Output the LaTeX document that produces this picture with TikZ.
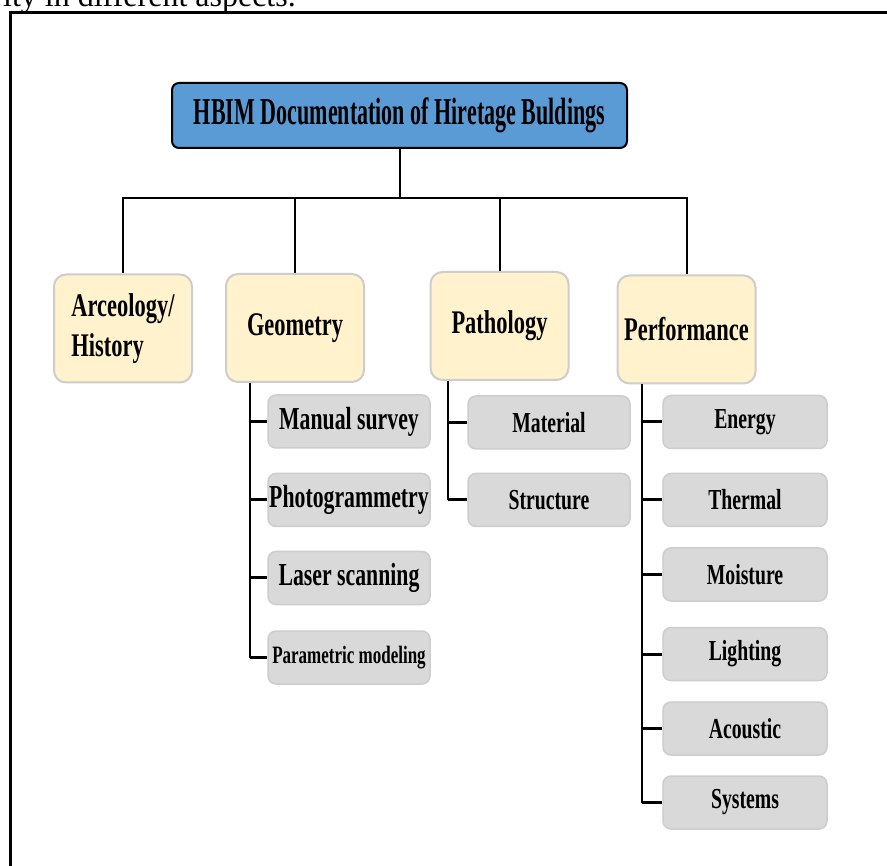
\documentclass[tikz,border=0pt]{standalone}
\usepackage{fontspec}
\setmainfont{Liberation Serif}
\newfontfamily\boxfont[FakeStretch=0.68]{Liberation Serif}
\newfontfamily\headfont[FakeStretch=0.58]{Liberation Serif}
\definecolor{hbimblue}{RGB}{91,155,213}
\definecolor{topicfill}{RGB}{255,242,204}
\definecolor{topicline}{RGB}{205,205,205}
\definecolor{itemfill}{RGB}{217,217,217}
\definecolor{itemline}{RGB}{205,205,205}
\tikzset{headbox/.style={draw=black, line width=2pt, fill=hbimblue, rounded corners=7pt,
           minimum width=455pt, minimum height=65pt, inner sep=0pt,
           font=\headfont\bfseries\fontsize{38}{42}\selectfont},
         topicbox/.style={draw=topicline, line width=2pt, fill=topicfill, rounded corners=12pt,
           minimum width=138pt, minimum height=108pt, inner sep=0pt,
           font=\boxfont\bfseries\fontsize{33}{40}\selectfont},
         itembox/.style={draw=itemline, line width=1.5pt, fill=itemfill, rounded corners=8pt,
           minimum width=162pt, minimum height=53pt, inner sep=0pt,
           font=\boxfont\bfseries\fontsize{29}{32}\selectfont},
         conn/.style={line width=2pt},
         tick/.style={line width=3pt}
}

\begin{document}
\begin{tikzpicture}[x=1pt,y=-1pt]
\useasboundingbox (0,0) rectangle (887,866);
\clip (0,0) rectangle (887,866);

% text above the frame and the frame
\node[anchor=base east, inner sep=0pt, font=\fontsize{32}{36}\selectfont] (caption) at (296,7) {ity in different aspects.};
\draw[line width=3pt] (10,900) -- (10,13) -- (900,13);

\node[headbox] (hbim) at (399.5,115.5) {HBIM Documentation of Hiretage Buldings};

\node[topicbox, align=left] (arch) at (123,328.5) {Arceology/\\History};
\node[topicbox] (geom) at (295,328) {Geometry};
\node[topicbox] (patho) at (499.5,326) {Pathology};
\node[topicbox] (perf) at (686.5,329.5) {Performance};

% geometry
\node[itembox, font=\boxfont\bfseries\fontsize{32}{36}\selectfont] (manual) at (349,421.5) {Manual survey};
\node[itembox, font=\boxfont\bfseries\fontsize{32}{36}\selectfont] (photo) at (349,500) {Photogrammetry};
\node[itembox, font=\boxfont\bfseries\fontsize{32}{36}\selectfont] (laser) at (349,578) {Laser scanning};
\node[itembox, font=\boxfont\bfseries\fontsize{25}{28}\selectfont] (param) at (349,657.5) {Parametric modeling};

% pathology
\node[itembox] (material) at (549,422.5) {Material};
\node[itembox] (struct) at (549,500) {Structure};

% performance
\node[itembox, minimum width=164pt] (energy) at (745,422) {Energy};
\node[itembox, minimum width=164pt] (thermal) at (745,500) {Thermal};
\node[itembox, minimum width=164pt] (moist) at (745,574.5) {Moisture};
\node[itembox, minimum width=164pt] (light) at (745,654) {Lighting};
\node[itembox, minimum width=164pt] (acoust) at (745,728.5) {Acoustic};
\node[itembox, minimum width=164pt] (systems) at (745,802.5) {Systems};

% tree lines
\coordinate (bus) at (399,198);
\draw[conn] (hbim.south) -- (hbim.south |- bus);
\draw[conn] (arch.north) |- (perf.north |- bus) -- (perf.north);
\draw[conn] (geom.north) -- (geom.north |- bus);
\draw[conn] (patho.north) -- (patho.north |- bus);

\coordinate (gtrunk) at ([xshift=-17pt]manual.west);
\draw[conn] (gtrunk |- geom.south) -- (gtrunk |- param.west);
\foreach \n in {manual,photo,laser,param}
  \draw[tick] (gtrunk |- \n.west) -- (\n.west);

\coordinate (ptrunk) at ([xshift=-19pt]material.west);
\draw[conn] (ptrunk |- patho.south) -- (ptrunk |- struct.west);
\foreach \n in {material,struct}
  \draw[tick] (ptrunk |- \n.west) -- (\n.west);

\coordinate (ftrunk) at ([xshift=-20pt]energy.west);
\draw[conn] (ftrunk |- perf.south) -- (ftrunk |- systems.west);
\foreach \n in {energy,thermal,moist,light,acoust,systems}
  \draw[tick] (ftrunk |- \n.west) -- (\n.west);

\end{tikzpicture}
\end{document}
